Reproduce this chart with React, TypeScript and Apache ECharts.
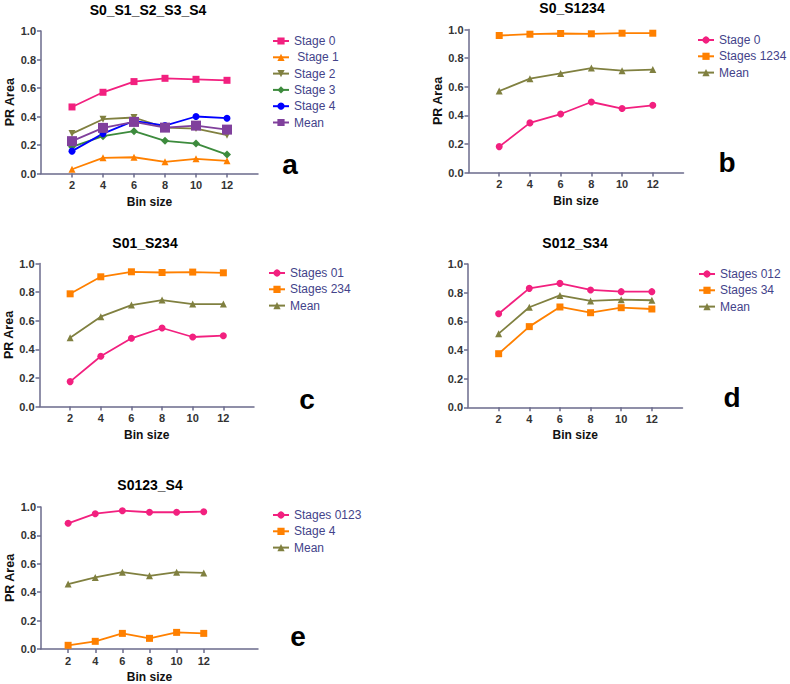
import React, { useEffect, useRef } from "react";
import * as echarts from "echarts";

const binSizes = [2, 4, 6, 8, 10, 12];
const yTicks = [0, 0.2, 0.4, 0.6, 0.8, 1.0];

// Panel a
const aStage0 = [0.467, 0.57, 0.645, 0.668, 0.661, 0.654];
const aStage1 = [0.03, 0.11, 0.114, 0.082, 0.103, 0.089];
const aStage2 = [0.28, 0.381, 0.393, 0.322, 0.315, 0.269];
const aStage3 = [0.187, 0.262, 0.297, 0.229, 0.21, 0.133];
const aStage4 = [0.157, 0.28, 0.369, 0.336, 0.4, 0.388];
const aMean = [0.227, 0.32, 0.362, 0.322, 0.336, 0.308];
// Panel b
const bStage0 = [0.181, 0.347, 0.409, 0.493, 0.447, 0.47];
const bStages1234 = [0.958, 0.967, 0.972, 0.97, 0.974, 0.974];
const bMean = [0.57, 0.656, 0.693, 0.73, 0.712, 0.72];
// Panel c
const cStages01 = [0.174, 0.351, 0.477, 0.549, 0.486, 0.495];
const cStages234 = [0.788, 0.907, 0.942, 0.937, 0.94, 0.935];
const cMean = [0.481, 0.628, 0.709, 0.744, 0.716, 0.716];
// Panel d
const dStages012 = [0.653, 0.83, 0.865, 0.819, 0.807, 0.807];
const dStages34 = [0.374, 0.563, 0.7, 0.66, 0.695, 0.686];
const dMean = [0.514, 0.698, 0.781, 0.742, 0.751, 0.747];
// Panel e
const eStages0123 = [0.885, 0.953, 0.974, 0.963, 0.963, 0.967];
const eStage4 = [0.026, 0.054, 0.11, 0.075, 0.117, 0.11];
const eMean = [0.457, 0.504, 0.541, 0.515, 0.541, 0.536];

const PINK = "#f2207f";
const ORANGE = "#ff8000";
const OLIVE = "#808040";
const GREEN = "#3d8b3d";
const BLUE = "#0000ff";
const PURPLE = "#80409c";
const AXIS = "#6b6b8c";
const FONT = "Liberation Sans, Arial, sans-serif";
const DOWN_TRI = "path://M0,0 L10,0 L5,9 Z";

type S = { name: string; data: number[]; color: string; symbol: string; size: number };

const panels: {
  key: string; title: string; tx: number; ty: number; letter: string; lx: number; ly: number;
  grid: { left: number; top: number; width: number; height: number };
  xMax: number; yName: string; legendLeft: number; legendTop: number; series: S[];
}[] = [
  {
    key: "a", title: "S0_S1_S2_S3_S4", tx: 148, ty: 10, letter: "a", lx: 290, ly: 164,
    grid: { left: 41, top: 31, width: 217, height: 142.5 }, xMax: 14, yName: "PR Area",
    legendLeft: 272, legendTop: 35,
    series: [
      { name: "Stage 0", data: aStage0, color: PINK, symbol: "rect", size: 7 },
      { name: " Stage 1", data: aStage1, color: ORANGE, symbol: "triangle", size: 7 },
      { name: "Stage 2", data: aStage2, color: OLIVE, symbol: DOWN_TRI, size: 7 },
      { name: "Stage 3", data: aStage3, color: GREEN, symbol: "diamond", size: 8 },
      { name: "Stage 4", data: aStage4, color: BLUE, symbol: "circle", size: 7 },
      { name: "Mean", data: aMean, color: PURPLE, symbol: "rect", size: 10 },
    ],
  },
  {
    key: "b", title: "S0_S1234", tx: 572, ty: 8, letter: "b", lx: 727, ly: 162,
    grid: { left: 468.5, top: 29.5, width: 215, height: 143 }, xMax: 14, yName: "PR Area",
    legendLeft: 697, legendTop: 34,
    series: [
      { name: "Stage 0", data: bStage0, color: PINK, symbol: "circle", size: 7 },
      { name: "Stages 1234", data: bStages1234, color: ORANGE, symbol: "rect", size: 7 },
      { name: "Mean", data: bMean, color: OLIVE, symbol: "triangle", size: 7 },
    ],
  },
  {
    key: "c", title: "S01_S234", tx: 145, ty: 243, letter: "c", lx: 307, ly: 399,
    grid: { left: 39.5, top: 263.5, width: 214.5, height: 143 }, xMax: 14, yName: "PR Area",
    legendLeft: 268, legendTop: 267,
    series: [
      { name: "Stages 01", data: cStages01, color: PINK, symbol: "circle", size: 7 },
      { name: "Stages 234", data: cStages234, color: ORANGE, symbol: "rect", size: 7 },
      { name: "Mean", data: cMean, color: OLIVE, symbol: "triangle", size: 7 },
    ],
  },
  {
    key: "d", title: "S012_S34", tx: 575, ty: 243, letter: "d", lx: 732, ly: 397,
    grid: { left: 468, top: 264, width: 214.5, height: 143.3 }, xMax: 14, yName: "",
    legendLeft: 698, legendTop: 268,
    series: [
      { name: "Stages 012", data: dStages012, color: PINK, symbol: "circle", size: 7 },
      { name: "Stages 34", data: dStages34, color: ORANGE, symbol: "rect", size: 7 },
      { name: "Mean", data: dMean, color: OLIVE, symbol: "triangle", size: 7 },
    ],
  },
  {
    key: "e", title: "S0123_S4", tx: 150, ty: 485, letter: "e", lx: 298, ly: 636,
    grid: { left: 41, top: 507, width: 217, height: 142 }, xMax: 16, yName: "PR Area",
    legendLeft: 272, legendTop: 509,
    series: [
      { name: "Stages 0123", data: eStages0123, color: PINK, symbol: "circle", size: 7 },
      { name: "Stage 4", data: eStage4, color: ORANGE, symbol: "rect", size: 7 },
      { name: "Mean", data: eMean, color: OLIVE, symbol: "triangle", size: 7 },
    ],
  },
];

function buildOption() {
  const grid: any[] = [];
  const xAxis: any[] = [];
  const yAxis: any[] = [];
  const series: any[] = [];
  const legend: any[] = [];
  const graphic: any[] = [];

  panels.forEach((p, gi) => {
    grid.push({ ...p.grid, containLabel: false });
    xAxis.push({
      type: "value", gridIndex: gi, min: 0, max: p.xMax, interval: 2,
      axisLine: { show: true, lineStyle: { color: AXIS, width: 1.5 } },
      axisTick: { show: true, customValues: binSizes, length: 4, lineStyle: { color: AXIS, width: 1.5 } },
      axisLabel: {
        customValues: binSizes, fontFamily: FONT, fontWeight: "bold", fontSize: 11, color: "#333", margin: 6,
        formatter: (v: number) => (binSizes.indexOf(v) >= 0 ? String(v) : ""),
      },
      splitLine: { show: false },
      name: "Bin size", nameLocation: "middle", nameGap: 22,
      nameTextStyle: { fontFamily: FONT, fontWeight: "bold", fontSize: 12, color: "#111" },
    });
    yAxis.push({
      type: "value", gridIndex: gi, min: 0, max: 1, interval: 0.2,
      axisLine: { show: true, lineStyle: { color: AXIS, width: 1.5 } },
      axisTick: { show: true, length: 4, lineStyle: { color: AXIS, width: 1.5 } },
      axisLabel: {
        customValues: yTicks, fontFamily: FONT, fontWeight: "bold", fontSize: 11, color: "#333", margin: 5,
        formatter: (v: number) => v.toFixed(1),
      },
      splitLine: { show: false },
      name: p.yName, nameLocation: "middle", nameGap: 19, nameRotate: 90,
      nameTextStyle: { fontFamily: FONT, fontWeight: "bold", fontSize: 12.5, color: "#111" },
    });
    const names: string[] = [];
    p.series.forEach((s) => {
      const nm = p.key + "|" + s.name;
      names.push(nm);
      series.push({
        type: "line", name: nm, xAxisIndex: gi, yAxisIndex: gi,
        data: binSizes.map((x, i) => [x, s.data[i]]),
        symbol: s.symbol, symbolSize: s.size, showSymbol: true,
        lineStyle: { color: s.color, width: 1.8 },
        itemStyle: { color: s.color, borderWidth: 0 },
        z: 3,
      });
    });
    legend.push({
      data: names, orient: "vertical", left: p.legendLeft, top: p.legendTop, padding: 0,
      itemWidth: 16, itemHeight: 9, itemGap: 4.3, selectedMode: false,
      formatter: (n: string) => n.split("|")[1],
      textStyle: { fontFamily: FONT, fontSize: 12, color: "#43438a" },
    });
    graphic.push({
      type: "text", x: p.tx, y: p.ty,
      style: { text: p.title, fontFamily: FONT, fontWeight: "bold", fontSize: 14, fill: "#000", align: "center", verticalAlign: "middle" },
    });
    graphic.push({
      type: "text", x: p.lx, y: p.ly,
      style: { text: p.letter, fontFamily: FONT, fontWeight: "bold", fontSize: 28, fill: "#000", align: "center", verticalAlign: "middle" },
    });
  });

  return { animation: false, backgroundColor: "#fff", grid, xAxis, yAxis, series, legend, graphic };
}

export default function App() {
  const ref = useRef<HTMLDivElement>(null);
  useEffect(() => {
    if (!ref.current) return;
    const chart = echarts.init(ref.current, undefined, { renderer: "svg" });
    chart.setOption(buildOption() as any);
    return () => chart.dispose();
  }, []);
  return (
    <div
      ref={ref}
      style={{ position: "fixed", left: 0, top: 0, width: 790, height: 684, background: "#fff" }}
    />
  );
}
